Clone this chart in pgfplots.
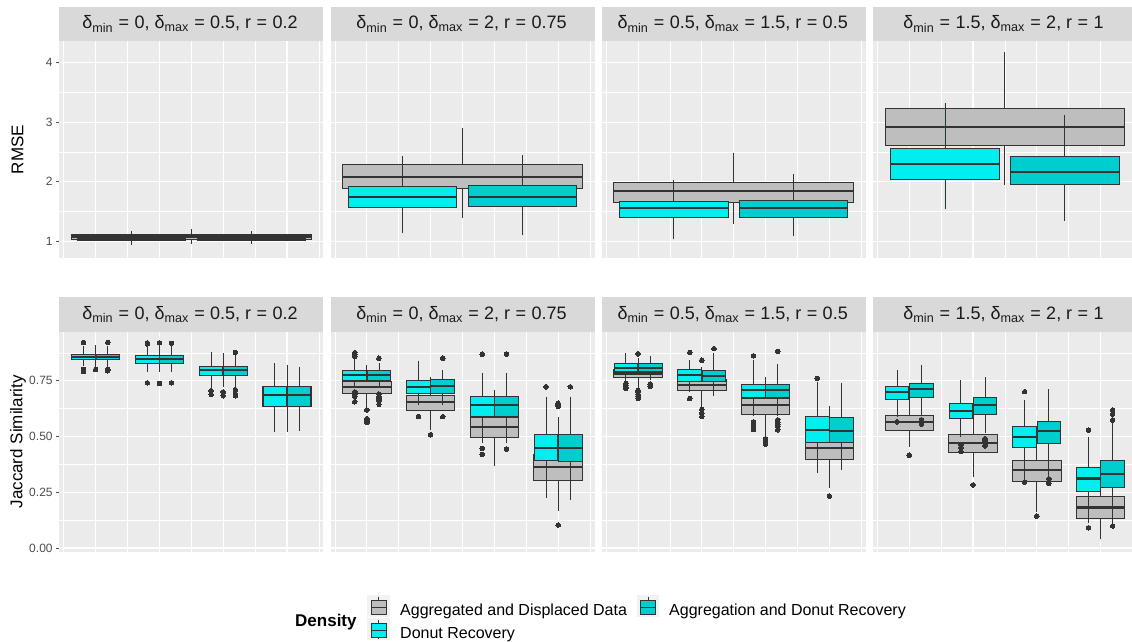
\documentclass[border=0pt]{standalone}
\usepackage{pgfplots}
\pgfplotsset{compat=1.18}
\usepgfplotslibrary{statistics}
\usepackage{fontspec}
\setmainfont{Liberation Sans}
\definecolor{panelbg}{HTML}{EBEBEB}
\definecolor{stripbg}{HTML}{D9D9D9}
\definecolor{tickcol}{HTML}{4D4D4D}
\definecolor{boxline}{HTML}{333333}
\definecolor{dotcol}{HTML}{333333}
\definecolor{cgrey}{HTML}{BEBEBE}
\definecolor{ccyan}{HTML}{00EEEE}
\definecolor{cteal}{HTML}{00CDCD}
\definecolor{keybg}{HTML}{F2F2F2}
\definecolor{txt}{HTML}{1A1A1A}
\newcommand{\fs}[1]{\fontsize{#1}{#1}\selectfont}
% boxplot: fill, position, width, lower whisker, lower quartile, median, upper quartile, upper whisker, outliers
\newcommand{\bx}[9]{\addplot[bxs,fill=#1,boxplot prepared={draw direction=y,draw position=#2,box extend=#3,lower whisker=#4,lower quartile=#5,median=#6,upper quartile=#7,upper whisker=#8}] coordinates {#9};}
\newcommand{\striptext}[3]{δ\textsubscript{min}\hspace{0.3em}=\hspace{0.3em}#1, δ\textsubscript{max}\hspace{0.3em}=\hspace{0.3em}#2, r\hspace{0.3em}=\hspace{0.3em}#3}
\newcommand{\lkey}[3]{%
 \fill[keybg] (#1,-#2) rectangle ++(22.7,-21.7);
 \draw[boxline, line width=0.8pt] (#1+11.35,-#2-1.5) -- (#1+11.35,-#2-5.5) (#1+11.35,-#2-19.2) -- (#1+11.35,-#2-20.2);
 \filldraw[fill=#3, draw=boxline, line width=0.8pt] (#1+3.6,-#2-5.5) rectangle (#1+19.1,-#2-19.2);
 \draw[boxline, line width=1.4pt] (#1+3.6,-#2-12.35) -- (#1+19.1,-#2-12.35);}
\pgfplotsset{
 panel/.style={
  scale only axis, width=264pt, anchor=north west,
  xmin=0.43, xmax=4.57,
  xtick={1,2,3,4}, minor xtick={0.5,1.5,2.5,3.5,4.5},
  xmajorgrids=true, xminorgrids=true, ymajorgrids=true, yminorgrids=true,
  major grid style={white, line width=1.1pt},
  minor grid style={white, line width=0.55pt},
  axis background/.style={fill=panelbg},
  axis line style={draw=none},
  tick align=outside, major tick length=3.5pt, minor tick length=0pt,
  tick style={draw=tickcol, line width=0.9pt},
  minor tick style={draw=none},
  every x tick/.style={draw=none},
  every minor x tick/.style={draw=none},
  every major x tick/.style={draw=none},
  every minor y tick/.style={draw=none},
  xtick pos=left, ytick pos=left,
  yticklabel style={font=\fs{12}, text=tickcol, anchor=east, inner sep=0pt, xshift=-3pt},
  /pgf/number format/assume math mode=true,
 },
 noticks/.style={xmajorticks=false, xminorticks=false, yminorticks=false},
 toprow/.style={panel, height=217pt, ymin=0.72, ymax=4.361, ytick={1,2,3,4}, minor ytick={1.5,2.5,3.5}, noticks},
 botrow/.style={panel, height=220.3pt, ymin=-0.018, ymax=0.970, ytick={0,0.25,0.5,0.75}, minor ytick={0.125,0.375,0.625,0.875}, yticklabels={0.00,0.25,0.50,0.75}, noticks},
 noy/.style={ymajorticks=false},
 bxs/.style={draw=boxline, line width=0.9pt, mark=*, mark size=2.3pt, mark options={fill=dotcol, draw=dotcol, line width=0pt}, boxplot/whisker extend=0, boxplot/every median/.style={line width=2.2pt}},
}
\begin{document}
\begin{tikzpicture}
\begin{scope}[x=1pt,y=1pt]
% ---------------- strips ----------------
\foreach \L in {59.3,330.5,601.7,872.9}{
 \fill[stripbg] (\L,-6.7) rectangle (\L+264,-41);
 \fill[stripbg] (\L,-297.3) rectangle (\L+264,-331.7);
}
\foreach \yy in {-23.9,-314.5}{
 \node[font=\fs{18}, text=txt] at (190,\yy) {\striptext{0}{0.5}{0.2}};
 \node[font=\fs{18}, text=txt] at (461.5,\yy) {\striptext{0}{2}{0.75}};
 \node[font=\fs{18}, text=txt] at (732.7,\yy) {\striptext{0.5}{1.5}{0.5}};
 \node[font=\fs{18}, text=txt] at (1003.5,\yy) {\striptext{1.5}{2}{1}};
}
\node[rotate=90, font=\fs{17}] at (17.5,-149.5) {RMSE};
\node[rotate=90, font=\fs{17}] at (18,-441.8) {Jaccard Similarity};
% ---------------- legend ----------------
\node[anchor=base west, font=\fs{17}\bfseries, inner sep=0pt] at (295,-626.5) {Density};
\lkey{367.3}{595}{cgrey}
\lkey{367.3}{618.3}{ccyan}
\lkey{636.7}{595}{cteal}
\node[anchor=base west, font=\fs{16}, inner sep=0pt] at (400,-615) {Aggregated and Displaced Data};
\node[anchor=base west, font=\fs{16}, inner sep=0pt] at (669,-615) {Aggregation and Donut Recovery};
\node[anchor=base west, font=\fs{16}, inner sep=0pt] at (400,-638) {Donut Recovery};
\end{scope}
% ---------------- top row: RMSE ----------------
\begin{axis}[toprow, at={(59.3pt,-41pt)}]
\bx{cgrey}{2.5}{3.76}{0.95}{1.039}{1.08}{1.117}{1.206}{}
\bx{ccyan}{1.56}{1.7}{0.938}{1.01}{1.035}{1.06}{1.178}{}
\bx{cteal}{3.44}{1.7}{0.95}{1.022}{1.045}{1.072}{1.168}{}
\end{axis}
\begin{axis}[toprow, noy, at={(330.5pt,-41pt)}]
\bx{cgrey}{2.5}{3.76}{1.396}{1.889}{2.074}{2.297}{2.896}{}
\bx{ccyan}{1.56}{1.7}{1.134}{1.570}{1.748}{1.928}{2.43}{}
\bx{cteal}{3.44}{1.7}{1.106}{1.587}{1.745}{1.94}{2.44}{}
\end{axis}
\begin{axis}[toprow, noy, at={(601.7pt,-41pt)}]
\bx{cgrey}{2.5}{3.76}{1.285}{1.654}{1.849}{1.99}{2.487}{}
\bx{ccyan}{1.56}{1.7}{1.034}{1.408}{1.564}{1.671}{2.03}{}
\bx{cteal}{3.44}{1.7}{1.094}{1.408}{1.564}{1.688}{2.124}{}
\end{axis}
\begin{axis}[toprow, noy, at={(872.9pt,-41pt)}]
\bx{cgrey}{2.5}{3.76}{1.94}{2.604}{2.918}{3.231}{4.17}{}
\bx{ccyan}{1.56}{1.7}{1.542}{2.04}{2.292}{2.554}{3.315}{}
\bx{cteal}{3.44}{1.7}{1.346}{1.961}{2.168}{2.42}{3.114}{}
\end{axis}
% ---------------- bottom row: Jaccard ----------------
\begin{axis}[botrow, at={(59.3pt,-331.7pt)}]
\bx{cgrey}{1}{0.76}{0.80}{0.846}{0.858}{0.869}{0.91}{(0,0.80)}
\bx{cgrey}{2}{0.76}{0.79}{0.827}{0.846}{0.864}{0.905}{(0,0.92) (0,0.738)}
\bx{cgrey}{3}{0.76}{0.72}{0.773}{0.798}{0.813}{0.875}{(0,0.70) (0,0.683)}
\bx{cgrey}{4}{0.76}{0.52}{0.637}{0.685}{0.725}{0.82}{}
\bx{ccyan}{0.81}{0.37}{0.815}{0.846}{0.858}{0.870}{0.905}{(0,0.921) (0,0.80) (0,0.792)}
\bx{cteal}{1.19}{0.37}{0.815}{0.846}{0.858}{0.870}{0.905}{(0,0.922) (0,0.802) (0,0.795)}
\bx{ccyan}{1.81}{0.37}{0.79}{0.827}{0.846}{0.864}{0.905}{(0,0.92) (0,0.915) (0,0.741)}
\bx{cteal}{2.19}{0.37}{0.79}{0.827}{0.846}{0.864}{0.905}{(0,0.918) (0,0.741)}
\bx{ccyan}{2.81}{0.37}{0.716}{0.773}{0.798}{0.813}{0.88}{(0,0.705) (0,0.69)}
\bx{cteal}{3.19}{0.37}{0.716}{0.773}{0.798}{0.813}{0.865}{(0,0.877) (0,0.71) (0,0.69) (0,0.683)}
\bx{ccyan}{3.81}{0.37}{0.522}{0.637}{0.685}{0.726}{0.828}{}
\bx{cteal}{4.19}{0.37}{0.525}{0.637}{0.685}{0.725}{0.813}{}
\end{axis}
\begin{axis}[botrow, noy, at={(330.5pt,-331.7pt)}]
\bx{cgrey}{1}{0.76}{0.626}{0.694}{0.723}{0.746}{0.82}{(0,0.619) (0,0.58) (0,0.57) (0,0.562)}
\bx{cgrey}{2}{0.76}{0.529}{0.619}{0.653}{0.683}{0.768}{(0,0.508)}
\bx{cgrey}{3}{0.76}{0.368}{0.496}{0.544}{0.584}{0.708}{}
\bx{cgrey}{4}{0.76}{0.167}{0.305}{0.365}{0.42}{0.589}{(0,0.649) (0,0.642) (0,0.634) (0,0.103)}
\bx{ccyan}{0.81}{0.37}{0.72}{0.753}{0.776}{0.795}{0.851}{(0,0.876) (0,0.866) (0,0.86) (0,0.70) (0,0.69) (0,0.68) (0,0.656)}
\bx{cteal}{1.19}{0.37}{0.72}{0.753}{0.776}{0.795}{0.83}{(0,0.851) (0,0.69) (0,0.68) (0,0.67) (0,0.66) (0,0.645)}
\bx{ccyan}{1.81}{0.37}{0.64}{0.691}{0.723}{0.750}{0.840}{(0,0.589)}
\bx{cteal}{2.19}{0.37}{0.64}{0.691}{0.726}{0.758}{0.80}{(0,0.851) (0,0.589)}
\bx{ccyan}{2.81}{0.37}{0.469}{0.592}{0.641}{0.679}{0.783}{(0,0.869) (0,0.447) (0,0.42)}
\bx{cteal}{3.19}{0.37}{0.469}{0.592}{0.641}{0.679}{0.783}{(0,0.869) (0,0.444)}
\bx{ccyan}{3.81}{0.37}{0.223}{0.392}{0.45}{0.51}{0.679}{(0,0.723)}
\bx{cteal}{4.19}{0.37}{0.215}{0.387}{0.45}{0.507}{0.679}{(0,0.723)}
\end{axis}
\begin{axis}[botrow, noy, at={(601.7pt,-331.7pt)}]
\bx{cgrey}{1}{0.76}{0.72}{0.764}{0.783}{0.801}{0.851}{(0,0.871) (0,0.708) (0,0.70) (0,0.69) (0,0.68) (0,0.671)}
\bx{cgrey}{2}{0.76}{0.634}{0.705}{0.731}{0.757}{0.813}{(0,0.842) (0,0.622) (0,0.605) (0,0.589)}
\bx{cgrey}{3}{0.76}{0.50}{0.601}{0.640}{0.671}{0.765}{(0,0.49) (0,0.48) (0,0.473) (0,0.466)}
\bx{cgrey}{4}{0.76}{0.268}{0.399}{0.450}{0.502}{0.637}{(0,0.233)}
\bx{ccyan}{0.81}{0.37}{0.753}{0.791}{0.809}{0.828}{0.873}{(0,0.739) (0,0.73) (0,0.722) (0,0.716)}
\bx{cteal}{1.19}{0.37}{0.753}{0.791}{0.809}{0.828}{0.86}{(0,0.735) (0,0.725)}
\bx{ccyan}{1.81}{0.37}{0.701}{0.746}{0.776}{0.801}{0.843}{(0,0.877) (0,0.670)}
\bx{cteal}{2.19}{0.37}{0.682}{0.746}{0.771}{0.798}{0.873}{(0,0.894)}
\bx{ccyan}{2.81}{0.37}{0.593}{0.674}{0.708}{0.735}{0.843}{(0,0.862) (0,0.566) (0,0.55) (0,0.532)}
\bx{cteal}{3.19}{0.37}{0.59}{0.674}{0.708}{0.735}{0.824}{(0,0.882) (0,0.575) (0,0.565) (0,0.555) (0,0.545) (0,0.53)}
\bx{ccyan}{3.81}{0.37}{0.338}{0.474}{0.529}{0.589}{0.745}{(0,0.761)}
\bx{cteal}{4.19}{0.37}{0.35}{0.474}{0.526}{0.584}{0.739}{}
\end{axis}
\begin{axis}[botrow, noy, at={(872.9pt,-331.7pt)}]
\bx{cgrey}{1}{0.76}{0.454}{0.526}{0.566}{0.596}{0.671}{(0,0.416)}
\bx{cgrey}{2}{0.76}{0.32}{0.427}{0.472}{0.510}{0.634}{(0,0.283)}
\bx{cgrey}{3}{0.76}{0.163}{0.297}{0.350}{0.392}{0.544}{(0,0.143)}
\bx{cgrey}{4}{0.76}{0.039}{0.133}{0.182}{0.230}{0.380}{}
\bx{ccyan}{0.81}{0.37}{0.589}{0.667}{0.701}{0.723}{0.798}{(0,0.566)}
\bx{cteal}{1.19}{0.37}{0.59}{0.676}{0.713}{0.739}{0.821}{(0,0.575) (0,0.565) (0,0.555)}
\bx{ccyan}{1.81}{0.37}{0.499}{0.582}{0.616}{0.649}{0.753}{(0,0.462) (0,0.45) (0,0.432)}
\bx{cteal}{2.19}{0.37}{0.515}{0.600}{0.641}{0.673}{0.765}{(0,0.49) (0,0.48) (0,0.47) (0,0.458)}
\bx{ccyan}{2.81}{0.37}{0.305}{0.450}{0.499}{0.547}{0.664}{(0,0.701) (0,0.295)}
\bx{cteal}{3.19}{0.37}{0.32}{0.469}{0.526}{0.566}{0.712}{(0,0.31) (0,0.30) (0,0.29)}
\bx{ccyan}{3.81}{0.37}{0.111}{0.253}{0.312}{0.360}{0.499}{(0,0.529) (0,0.091)}
\bx{cteal}{4.19}{0.37}{0.111}{0.272}{0.332}{0.392}{0.566}{(0,0.619) (0,0.60) (0,0.574) (0,0.099)}
\end{axis}
\pgfresetboundingbox
\path[use as bounding box] (0pt,0pt) rectangle (1132pt,-641pt);
\end{tikzpicture}
\end{document}
